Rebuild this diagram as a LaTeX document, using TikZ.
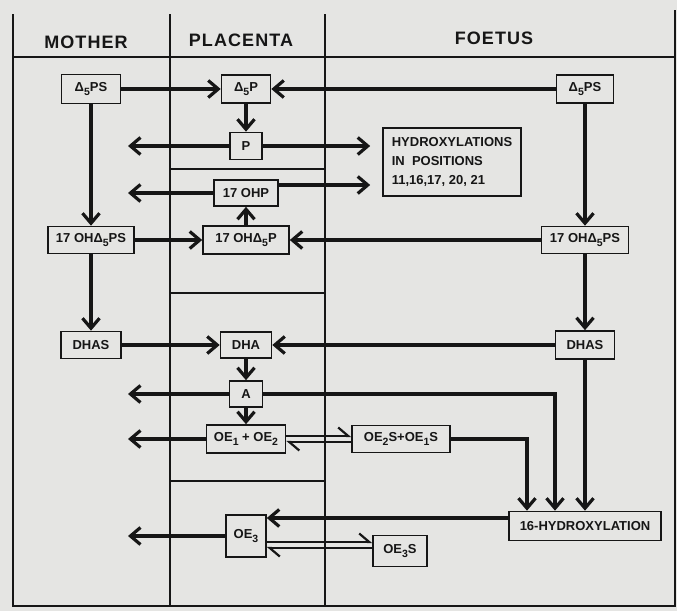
\documentclass[tikz,border=0pt]{standalone}
\usepackage{fontspec}
\setmainfont{Liberation Sans}
\newfontfamily\headfont[LetterSpace=6]{Liberation Sans}
\usepackage{tikz}
\usetikzlibrary{calc,arrows.meta}
\usetikzlibrary{positioning}
\definecolor{pl-paper}{HTML}{E5E5E3}
\definecolor{pl-ink}{HTML}{161616}
\newcommand{\idx}[1]{\raisebox{-0.55ex}{\fontsize{10.5}{10.5}\selectfont #1}}

\begin{document}
\begin{tikzpicture}[
    x=1pt, y=-1pt,
    on grid,
    font=\bfseries\fontsize{13}{16}\selectfont,
    >=latex
  ]

  % Styles for boxes, rules and flow arrows
  \tikzset{
    box/.style={draw=pl-ink, line width=1.6pt, fill=pl-paper, minimum height=27pt, inner xsep=4pt, inner ysep=2pt, text=pl-ink, align=center},
    head/.style={font=\headfont\bfseries\fontsize{18}{18}\selectfont, text=pl-ink},
    colline/.style={draw=pl-ink, line width=1.4pt},
    flow/.style={draw=pl-ink, line width=3.2pt, -{Straight Barb[length=10pt, width=17pt]}},
    harp/.style={draw=pl-ink, line width=2.2pt, -{Straight Barb[harpoon, length=10pt, width=17pt]}}
  }

  % Paper and column rules
  \fill[pl-paper] (0,0) rectangle (677,611);
  \draw[colline] (13,14) -- (13,606) -- (675,606) -- (675,10);
  \draw[colline] (170,14) -- (170,606);
  \draw[colline] (325,14) -- (325,606);
  \draw[colline] (13,57) -- (675,57);
  \draw[colline] (170,169) -- (325,169);
  \draw[colline] (170,293) -- (325,293);
  \draw[colline] (170,481) -- (325,481);

  % Column headings
  \node (hMother)   [head] at (86,42)  {MOTHER};
  \node (hPlacenta) [head] at (241,40) {PLACENTA};
  \node (hFoetus)   [head] at (494,38) {FOETUS};

  % Left-hand end of the outflow arrows
  \coordinate (mL) at (128,0);

  % Top row
  \node (d5psM) [box, minimum width=59pt, minimum height=29pt] at (91,89) {Δ\idx{5}PS};
  \node (d5p)   [box, minimum width=49pt, minimum height=28pt] at (246,89) {Δ\idx{5}P};
  \node (d5psF) [box, minimum width=57pt, minimum height=28pt] at (585,89) {Δ\idx{5}PS};

  % Placenta: progesterone branch
  \node (p)   [box, minimum width=32pt, below=57pt of d5p] {P};
  \node (ohp) [box, minimum width=64pt, minimum height=26pt, below=47pt of p] {17 OHP};
  \node (hyd) [box, minimum width=138pt, minimum height=68pt, align=left, font=\bfseries\fontsize{13}{19}\selectfont, right=206pt of p, yshift=-16pt]
    {HYDROXYLATIONS\\IN\ \ POSITIONS\\11,16,17, 20, 21};

  % 17 OH row
  \node (ohpsM) [box, minimum width=86pt, below=151pt of d5psM] {17 OHΔ\idx{5}PS};
  \node (ohdp)  [box, minimum width=86pt, minimum height=28pt, below=151pt of d5p] {17 OHΔ\idx{5}P};
  \node (ohpsF) [box, minimum width=87pt, below=151pt of d5psF] {17 OHΔ\idx{5}PS};

  % DHA row
  \node (dhasM) [box, minimum width=60pt, below=105pt of ohpsM] {DHAS};
  \node (dha)   [box, minimum width=51pt, minimum height=26pt, below=105pt of ohdp] {DHA};
  \node (dhasF) [box, minimum width=59pt, minimum height=28pt, below=105pt of ohpsF] {DHAS};

  % Oestrogens
  \node (a)     [box, minimum width=33pt, minimum height=26pt, below=49pt of dha] {A};
  \node (oe12)  [box, minimum width=79pt, minimum height=28pt, below=45pt of a] {OE\idx{1} + OE\idx{2}};
  \node (oe2s)  [box, minimum width=98pt, right=155pt of oe12] {OE\idx{2}S+OE\idx{1}S};
  \node (hyd16) [box, minimum width=152pt, minimum height=29pt, below=181pt of dhasF] {16-HYDROXYLATION};
  \node (oe3)   [box, minimum width=40pt, minimum height=42pt, below=97pt of oe12] {OE\idx{3}};
  \node (oe3s)  [box, minimum width=54pt, minimum height=31pt, right=154pt of oe3, yshift=-15pt] {OE\idx{3}S};

  % Top row flows
  \draw[flow] (d5psM) -- (d5p);
  \draw[flow] (d5psF) -- (d5p);
  \draw[flow] (d5p) -- (p);
  \draw[flow] (p) -- (p -| mL);
  \draw[flow, shorten >=12pt] (p) -- (p -| hyd.west);
  \coordinate (ohpR) at ([yshift=8pt]ohp.east);
  \draw[flow, shorten >=12pt] (ohpR) -- (ohpR -| hyd.west);
  \draw[flow] (ohp) -- (ohp -| mL);
  \draw[flow] (ohdp) -- (ohp);

  % Down the mother and foetus columns
  \draw[flow] (d5psM) -- (ohpsM);
  \draw[flow] (d5psF) -- (ohpsF);
  \draw[flow] (ohpsM) -- (ohdp);
  \draw[flow] (ohpsF) -- (ohdp);
  \draw[flow] (ohpsM) -- (dhasM);
  \draw[flow] (ohpsF) -- (dhasF);
  \draw[flow] (dhasM) -- (dha);
  \draw[flow] (dhasF) -- (dha);

  % Placenta to oestrogens
  \draw[flow] (dha) -- (a);
  \draw[flow] (a) -- (a -| mL);
  \draw[flow] (a) -- (oe12);
  \draw[flow] (oe12) -- (oe12 -| mL);

  % Into 16-hydroxylation and back to OE3
  \draw[flow] (a.east) -| ([xshift=-30pt]hyd16.north);
  \draw[flow] (oe2s.east) -| ([xshift=-58pt]hyd16.north);
  \draw[flow] (dhasF) -- (hyd16);
  \coordinate (hydW) at ([yshift=8pt]hyd16.west);
  \draw[flow] (hydW) -- (hydW -| oe3.east);
  \draw[flow] (oe3) -- (oe3 -| mL);

  % Equilibria with the sulphates
  \coordinate (e12a) at ([yshift=3pt]oe12.east);
  \coordinate (e12b) at ([yshift=-3pt]oe12.east);
  \draw[harp] (e12a) -- (e12a -| oe2s.west);
  \draw[harp] (e12b -| oe2s.west) -- (e12b);
  \coordinate (e3a) at ([yshift=-6pt]oe3.east);
  \coordinate (e3b) at ([yshift=-12pt]oe3.east);
  \draw[harp] (e3a) -- (e3a -| oe3s.west);
  \draw[harp] (e3b -| oe3s.west) -- (e3b);

\end{tikzpicture}
\end{document}
